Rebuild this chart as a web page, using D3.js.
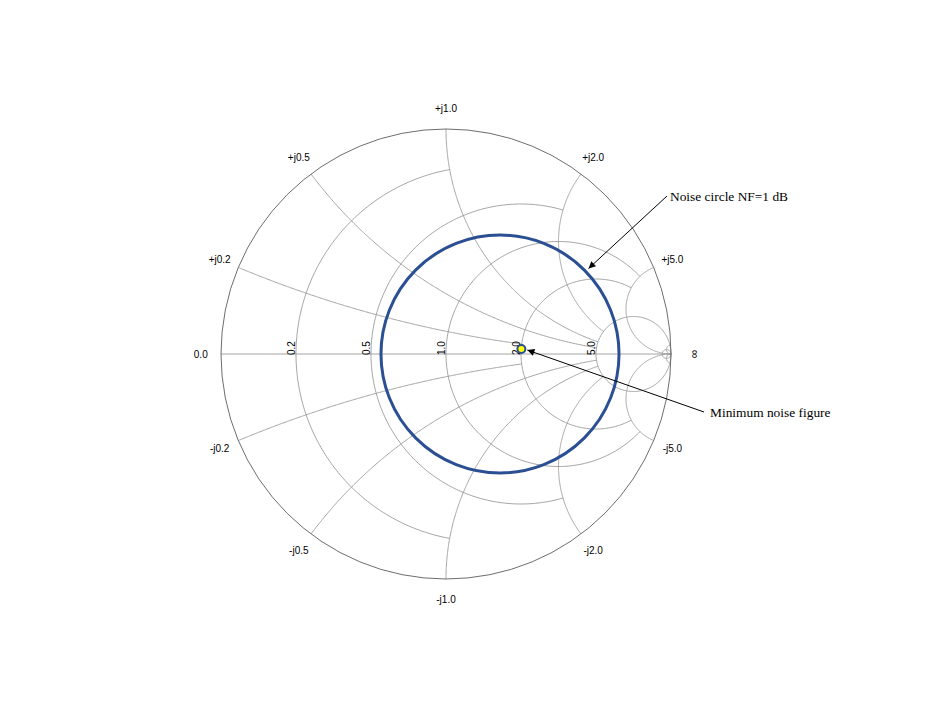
<!DOCTYPE html>
<html>
<head>
<meta charset="utf-8">
<script src="https://cdn.jsdelivr.net/npm/d3@7"></script>
<style>
  body { margin: 0; background: #fff; }
  .tick-label { font-family: "Liberation Sans", Arial, sans-serif; font-size: 10px; fill: #000; }
  .note { font-family: "Liberation Serif", "Times New Roman", serif; font-size: 13.4px; fill: #000; }
</style>
</head>
<body>
<svg id="smith__svg" width="926" height="716"></svg>
<script>
const SVG = d3.select("#smith__svg");
const CENTER = { x: 446, y: 354 };
const RADIUS = 225;

// grid values (normalized impedance)
const realTicks = [0.2, 0.5, 1.0, 2.0, 5.0];
const imagTicks = [0.2, 0.5, 1.0, 2.0, 5.0];
// how far each real circle reaches in reactance, and each reactance arc in resistance
const realCircleReach = [1.0, 2.0, 5.0, 5.0, Infinity];
const imagArcReach = [2.0, 5.0, 5.0, 5.0, Infinity];
const farCircle = 50; // tiny circles near the open circuit point

// rim labels
const rimLabels = ["0.0", "+j0.2", "+j0.5", "+j1.0", "+j2.0", "+j5.0", "-j0.2", "-j0.5", "-j1.0", "-j2.0", "-j5.0"];
const rimValues = [0, 0.2, 0.5, 1.0, 2.0, 5.0, -0.2, -0.5, -1.0, -2.0, -5.0];

// noise data, reflection coefficient plane
const gammaOpt = [0.335, 0.022];
const noiseCircleCenter = [0.24, 0.0];
const noiseCircleRadius = 0.529;
const noiseFigure = 1; // dB

const xScale = d3.scaleLinear().domain([-1, 1]).range([CENTER.x - RADIUS, CENTER.x + RADIUS]);
const yScale = d3.scaleLinear().domain([-1, 1]).range([CENTER.y + RADIUS, CENTER.y - RADIUS]);

const gamma = (zr, zi) => {
  // (z-1)/(z+1)
  const a = zr - 1, b = zi, c = zr + 1, d = zi;
  const den = c * c + d * d;
  return [(a * c + b * d) / den, (b * c - a * d) / den];
};

const line = d3.line()
  .x((d) => xScale(d[0]))
  .y((d) => yScale(d[1]));

const sample = (a0, a1, n, f) => d3.range(n + 1).map((i) => f(a0 + (a1 - a0) * i / n));

// constant resistance circle, drawn between -reach and +reach
const realCircle = (r, reach) => {
  const c = r / (1 + r), rho = 1 / (1 + r);
  let phi0 = 0;
  if (isFinite(reach)) {
    const g = gamma(r, reach);
    phi0 = Math.atan2(g[1], g[0] - c);
  }
  return sample(phi0, 2 * Math.PI - phi0, 240, (p) => [c + rho * Math.cos(p), rho * Math.sin(p)]);
};

// constant reactance arc, from the rim up to resistance reach
const imagArc = (x, reach) => {
  const ax = Math.abs(x), cy = 1 / ax, rho = 1 / ax;
  const ang = (g) => {
    let a = Math.atan2(g[1] - cy, g[0] - 1);
    if (a < 0) a += 2 * Math.PI;
    return a;
  };
  const a0 = ang(gamma(0, ax));
  const a1 = isFinite(reach) ? ang(gamma(reach, ax)) : 1.5 * Math.PI;
  const sgn = x < 0 ? -1 : 1;
  return sample(a0, a1, 240, (p) => [1 + rho * Math.cos(p), sgn * (cy + rho * Math.sin(p))]);
};

const grid = SVG.append("g").attr("id", "grid");

// real axis
grid.append("path")
  .attr("d", line([[-1, 0], [1, 0]]))
  .attr("fill", "none")
  .attr("stroke", "#9a9a9a")
  .attr("stroke-width", 0.9);

realTicks.forEach((r, i) => {
  grid.append("path")
    .attr("d", line(realCircle(r, realCircleReach[i])))
    .attr("fill", "none")
    .attr("stroke", "#9a9a9a")
    .attr("stroke-width", 0.9);
});

imagTicks.forEach((x, i) => {
  [x, -x].forEach((v) => {
    grid.append("path")
      .attr("d", line(imagArc(v, imagArcReach[i])))
      .attr("fill", "none")
      .attr("stroke", "#9a9a9a")
      .attr("stroke-width", 0.9);
  });
});

// the little ones at the open circuit end
grid.append("path")
  .attr("d", line(realCircle(farCircle, Infinity)))
  .attr("fill", "none")
  .attr("stroke", "#9a9a9a")
  .attr("stroke-width", 0.9);
[farCircle, -farCircle].forEach((v) => {
  grid.append("path")
    .attr("d", line(imagArc(v, Infinity)))
    .attr("fill", "none")
    .attr("stroke", "#9a9a9a")
    .attr("stroke-width", 0.9);
});

// outer rim
grid.append("circle")
  .attr("cx", xScale(0))
  .attr("cy", yScale(0))
  .attr("r", xScale(1) - xScale(0))
  .attr("fill", "none")
  .attr("stroke", "#6e6e6e")
  .attr("stroke-width", 1);

// rim labels
const labels = SVG.append("g").attr("id", "labels");
rimValues.forEach((v, i) => {
  const g = gamma(0, v);
  const ang = Math.atan2(g[1], g[0]);
  const k = 1.09;
  labels.append("text")
    .attr("class", "tick-label")
    .attr("x", xScale(k * Math.cos(ang)))
    .attr("y", yScale(k * Math.sin(ang)))
    .attr("text-anchor", "middle")
    .attr("dy", "0.35em")
    .text(rimLabels[i]);
});
labels.append("text")
  .attr("class", "tick-label")
  .attr("transform", "translate(" + (xScale(1.09) + 3) + "," + yScale(0) + ") rotate(-90)")
  .attr("text-anchor", "middle")
  .attr("dy", "0.35em")
  .style("font-size", "12px")
  .text("\u221E");

// real axis labels, rotated, sitting left of each circle
realTicks.forEach((r) => {
  const g = gamma(r, 0);
  labels.append("text")
    .attr("class", "tick-label")
    .attr("transform", "translate(" + (xScale(g[0]) - 1) + "," + (yScale(0) + 1) + ") rotate(-90)")
    .attr("text-anchor", "start")
    .text(r.toFixed(1));
});

// noise circle
SVG.append("circle")
  .attr("cx", xScale(noiseCircleCenter[0]))
  .attr("cy", yScale(noiseCircleCenter[1]))
  .attr("r", xScale(noiseCircleRadius) - xScale(0))
  .attr("fill", "none")
  .attr("stroke", "#2b4f93")
  .attr("stroke-width", 3);

SVG.append("circle")
  .attr("cx", xScale(gammaOpt[0]))
  .attr("cy", yScale(gammaOpt[1]))
  .attr("r", 4)
  .attr("fill", "#ffff00")
  .attr("stroke", "#2b4f93")
  .attr("stroke-width", 2);

// annotations
SVG.append("defs")
  .append("marker")
  .attr("id", "arrow")
  .attr("viewBox", "0 0 10 10")
  .attr("refX", 10)
  .attr("refY", 5)
  .attr("markerWidth", 9)
  .attr("markerHeight", 7)
  .attr("markerUnits", "userSpaceOnUse")
  .attr("orient", "auto")
  .append("path")
  .attr("d", "M0,0 L10,5 L0,10 z")
  .attr("fill", "#000");

// noise circle note: arrow stops just outside the circle at about 44 degrees
const noteAng = 44 * Math.PI / 180;
const tipR = noiseCircleRadius + 0.018;
const tip1 = [noiseCircleCenter[0] + tipR * Math.cos(noteAng), noiseCircleCenter[1] + tipR * Math.sin(noteAng)];
SVG.append("line")
  .attr("x1", 667)
  .attr("y1", 196)
  .attr("x2", xScale(tip1[0]))
  .attr("y2", yScale(tip1[1]))
  .attr("stroke", "#000")
  .attr("stroke-width", 1)
  .attr("marker-end", "url(#arrow)");
SVG.append("text")
  .attr("class", "note")
  .attr("x", 670)
  .attr("y", 201)
  .text("Noise circle NF=" + noiseFigure + " dB");

SVG.append("line")
  .attr("x1", 704)
  .attr("y1", 412)
  .attr("x2", xScale(gammaOpt[0]) + 6)
  .attr("y2", yScale(gammaOpt[1]) + 1)
  .attr("stroke", "#000")
  .attr("stroke-width", 1)
  .attr("marker-end", "url(#arrow)");
SVG.append("text")
  .attr("class", "note")
  .attr("x", 710)
  .attr("y", 417)
  .text("Minimum noise figure");
</script>
</body>
</html>
